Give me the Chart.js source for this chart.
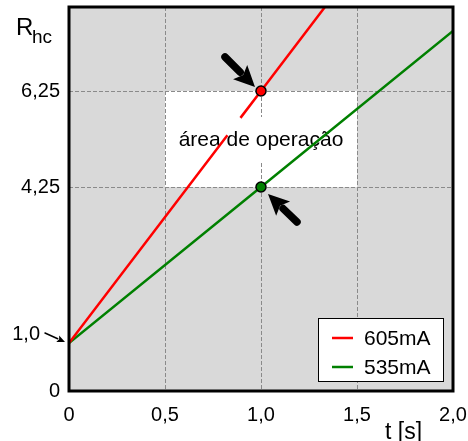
<!DOCTYPE html>
<html>
<head>
<meta charset="utf-8">
<script src="https://cdn.jsdelivr.net/npm/chart.js@4"></script>
<style>
  html, body { margin: 0; padding: 0; background: #ffffff; }
  #wrap { width: 468px; height: 441px; }
</style>
</head>
<body>
<div id="wrap"><canvas id="chart"></canvas></div>
<script>
// values (t in s, R_hc)
const seriesNames = ["605mA", "535mA"];
const seriesColors = ["#ff0000", "#008000"];
const t605 = [0, 0.825, 0.86, 0.893, 1, 1.333];
const r605 = [1, 5.33, null, 5.69, 6.25, 8];   // null = small gap near the label
const t535 = [0, 1, 2];
const r535 = [1, 4.25, 7.5];
const markedT = 1;

const xTicks = [0, 0.5, 1, 1.5, 2];
const xTickLabels = ["0", "0,5", "1,0", "1,5", "2,0"];
const yTicks = [0, 1, 4.25, 6.25];
const yTickLabels = ["0", "1,0", "4,25", "6,25"];

const areaT = [0.5, 1.5];
const areaR = [4.25, 6.25];
const areaLabel = "área de operação";

const FONT = "'Liberation Sans', Arial, sans-serif";

function toPoints(ts, rs) {
  return ts.map((t, i) => ({ x: t, y: rs[i] }));
}

function arrow(ctx, x0, y0, x1, y1, w, hl, hw) {
  const a = Math.atan2(y1 - y0, x1 - x0);
  const bx = x1 - hl * Math.cos(a), by = y1 - hl * Math.sin(a);
  ctx.save();
  ctx.strokeStyle = "#000";
  ctx.fillStyle = "#000";
  ctx.lineWidth = w;
  ctx.lineCap = "round";
  ctx.beginPath();
  ctx.moveTo(x0, y0);
  ctx.lineTo(bx, by);
  ctx.stroke();
  ctx.beginPath();
  ctx.moveTo(x1, y1);
  ctx.lineTo(bx + hw / 2 * Math.sin(a), by - hw / 2 * Math.cos(a));
  ctx.lineTo(bx + hl * 0.2 * Math.cos(a), by + hl * 0.2 * Math.sin(a));
  ctx.lineTo(bx - hw / 2 * Math.sin(a), by + hw / 2 * Math.cos(a));
  ctx.closePath();
  ctx.fill();
  ctx.restore();
}

const figurePlugin = {
  id: "figure",
  beforeDraw(chart) {
    const { ctx, chartArea: a, scales: { x, y } } = chart;
    ctx.save();
    ctx.fillStyle = "#d9d9d9";
    ctx.fillRect(a.left, a.top, a.right - a.left, a.bottom - a.top);
    ctx.fillStyle = "#ffffff";
    const x0 = x.getPixelForValue(areaT[0]), x1 = x.getPixelForValue(areaT[1]);
    const y0 = y.getPixelForValue(areaR[1]), y1 = y.getPixelForValue(areaR[0]);
    ctx.fillRect(x0, y0, x1 - x0, y1 - y0);
    ctx.restore();
  },
  beforeDatasetsDraw(chart) {
    const { ctx, scales: { x, y } } = chart;
    const cx = x.getPixelForValue((areaT[0] + areaT[1]) / 2);
    const cy = y.getPixelForValue((areaR[0] + areaR[1]) / 2);
    ctx.save();
    ctx.font = "21px " + FONT;
    const w = ctx.measureText(areaLabel).width;
    ctx.fillStyle = "#ffffff";
    ctx.fillRect(cx - w / 2 - 6, cy - 22, w + 12, 45);
    ctx.fillStyle = "#000";
    ctx.textAlign = "center";
    ctx.textBaseline = "middle";
    ctx.fillText(areaLabel, cx, cy + 1);
    ctx.restore();
  },
  afterDatasetsDraw(chart) {
    const { ctx, chartArea: a, scales: { x, y } } = chart;
    ctx.save();
    // frame
    ctx.strokeStyle = "#000";
    ctx.lineWidth = 3;
    ctx.strokeRect(a.left, a.top, a.right - a.left, a.bottom - a.top);

    // arrows to the marked points
    const px = x.getPixelForValue(markedT);
    const pr = y.getPixelForValue(r605[t605.indexOf(markedT)]);
    const pg = y.getPixelForValue(r535[t535.indexOf(markedT)]);
    arrow(ctx, px - 36, pr - 34, px - 6, pr - 4, 7.5, 21, 20);
    arrow(ctx, px + 36, pg + 35, px + 7, pg + 7, 7.5, 21, 20);

    // "1,0" label with small arrow to the start point
    const ox = x.getPixelForValue(t605[0]);
    const oy = y.getPixelForValue(r605[0]);
    arrow(ctx, ox - 24, oy - 10, ox - 4, oy - 1, 1.5, 8, 7);
    ctx.fillStyle = "#000";
    ctx.font = "20px " + FONT;
    ctx.textAlign = "right";
    ctx.textBaseline = "middle";
    ctx.fillText(yTickLabels[1], ox - 29, oy - 9);

    // legend box
    const lw = 125, lh = 63;
    const lx = a.right - 10 - lw, ly = a.bottom - 10 - lh;
    ctx.fillStyle = "#ffffff";
    ctx.fillRect(lx, ly, lw, lh);
    ctx.strokeStyle = "#000";
    ctx.lineWidth = 1;
    ctx.strokeRect(lx + 0.5, ly + 0.5, lw, lh);
    ctx.font = "21px " + FONT;
    chart.data.datasets.forEach((ds, i) => {
      const rowY = ly + 20 + i * 29;
      ctx.strokeStyle = ds.borderColor;
      ctx.lineWidth = 2.5;
      ctx.beginPath();
      ctx.moveTo(lx + 14, rowY);
      ctx.lineTo(lx + 35, rowY);
      ctx.stroke();
      ctx.fillStyle = "#000";
      ctx.textAlign = "left";
      ctx.textBaseline = "middle";
      ctx.fillText(ds.label, lx + 46, rowY + 1);
    });

    // axis titles
    ctx.textAlign = "left";
    ctx.textBaseline = "alphabetic";
    ctx.font = "24px " + FONT;
    ctx.fillText("R", 16, 35);
    ctx.font = "19px " + FONT;
    ctx.fillText("hc", 32, 43);
    ctx.font = "23px " + FONT;
    ctx.fillText("t [s]", 385, 439);
    ctx.restore();
  }
};

new Chart(document.getElementById("chart"), {
  type: "line",
  data: {
    datasets: [
      {
        label: seriesNames[0],
        data: toPoints(t605, r605),
        borderColor: seriesColors[0],
        backgroundColor: seriesColors[0],
        borderWidth: 2.5,
        spanGaps: false,
        pointRadius: ctx => (ctx.raw && ctx.raw.x === markedT ? 5 : 0),
        pointBorderColor: "#000",
        pointBorderWidth: 1.5
      },
      {
        label: seriesNames[1],
        data: toPoints(t535, r535),
        borderColor: seriesColors[1],
        backgroundColor: seriesColors[1],
        borderWidth: 2.5,
        pointRadius: ctx => (ctx.raw && ctx.raw.x === markedT ? 5 : 0),
        pointBorderColor: "#000",
        pointBorderWidth: 1.5
      }
    ]
  },
  options: {
    responsive: true,
    maintainAspectRatio: false,
    animation: false,
    devicePixelRatio: 1,
    layout: { padding: { top: 7, right: 15, bottom: 0, left: 0 } },
    plugins: {
      legend: { display: false },
      tooltip: { enabled: false }
    },
    scales: {
      x: {
        type: "linear",
        min: 0,
        max: 2,
        afterBuildTicks: s => { s.ticks = xTicks.map(v => ({ value: v })); },
        afterFit: s => { s.height = 50; s.paddingLeft = 0; s.paddingRight = 0; },
        ticks: {
          autoSkip: false,
          maxRotation: 0,
          padding: 12,
          color: "#000",
          font: { family: FONT, size: 20 },
          callback: (v, i) => xTickLabels[i]
        },
        grid: {
          drawTicks: false,
          lineWidth: 1,
          color: c => (c.tick && c.tick.value > xTicks[0] && c.tick.value < xTicks[xTicks.length - 1]) ? "#8a8a8a" : "rgba(0,0,0,0)"
        },
        border: { display: false, dash: [4, 2] }
      },
      y: {
        type: "linear",
        min: 0,
        max: 8,
        afterBuildTicks: s => { s.ticks = yTicks.map(v => ({ value: v })); },
        afterFit: s => { s.width = 69; s.paddingTop = 0; s.paddingBottom = 0; },
        ticks: {
          autoSkip: false,
          padding: 9,
          color: "#000",
          font: { family: FONT, size: 20 },
          callback: (v, i) => (v === yTicks[1] ? "" : yTickLabels[i])
        },
        grid: {
          drawTicks: false,
          lineWidth: 1,
          color: c => (c.tick && c.tick.value > yTicks[1]) ? "#8a8a8a" : "rgba(0,0,0,0)"
        },
        border: { display: false, dash: [4, 2] }
      }
    }
  },
  plugins: [figurePlugin]
});
</script>
</body>
</html>
